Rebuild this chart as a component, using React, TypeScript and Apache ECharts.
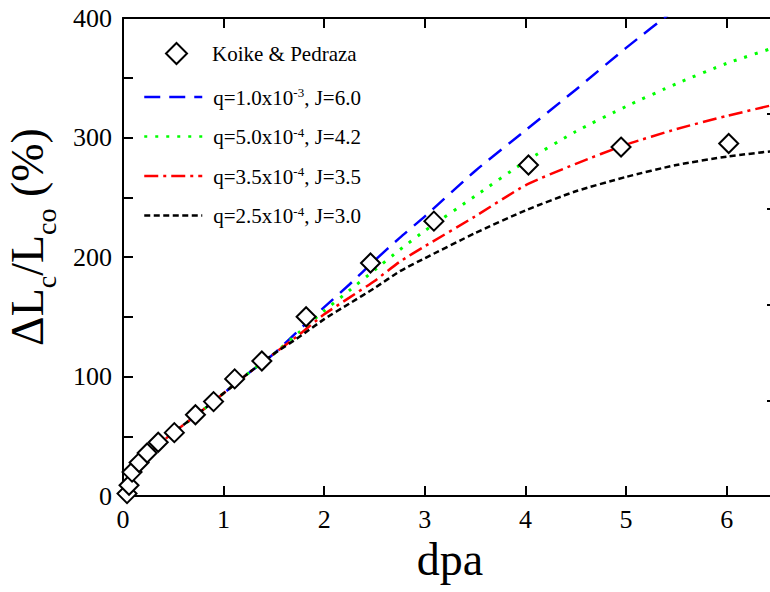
import React, { useEffect, useRef } from "react";
import * as echarts from "echarts";

// Experimental data (Koike & Pedraza)
const expDpa = [0.04, 0.06, 0.09, 0.16, 0.24, 0.35, 0.51, 0.72, 0.9, 1.11, 1.38, 1.82, 2.46, 3.09, 4.03, 4.95, 6.02];
const expDL = [2, 9, 20, 28, 36, 45, 53, 68, 79, 98, 113, 150, 195, 230, 277, 292, 295];

// Model curves
const modelDpa = [0, 0.05, 0.1, 0.2, 0.35, 0.5, 0.75, 1.0, 1.25, 1.5, 1.75, 2.0, 2.25, 2.5, 2.75, 3.0, 3.5, 4.0, 4.5, 5.0, 5.5, 6.0, 6.5];
const blueModel = [0, 9, 18, 31, 43, 53, 69, 86, 103, 119, 139, 158, 177, 197, 216, 234, 272, 306, 340, 375, 408, 440, 470];
const greenModel = [0, 9, 18, 31, 43, 53, 69, 86, 103, 119, 137, 155, 172, 189, 206, 222, 251, 280, 305, 326, 345, 362, 376];
const redModel = [0, 9, 18, 31, 43, 53, 69, 86, 103, 119, 135, 152, 166, 180, 196, 209, 234, 260, 278, 294, 307, 318, 328];
const blackModel = [0, 9, 18, 31, 43, 53, 69, 86, 103, 119, 133, 148, 161, 174, 188, 199, 220, 239, 255, 267, 277, 284, 289];

const expName = "Koike & Pedraza";
const modelNames = [
  "q=1.0x10^-3, J=6.0",
  "q=5.0x10^-4, J=4.2",
  "q=3.5x10^-4, J=3.5",
  "q=2.5x10^-4, J=3.0",
];

const pair = (xs: number[], ys: number[]) => xs.map((x, i) => [x, ys[i]]);

export default function App() {
  const ref = useRef<HTMLDivElement>(null);
  useEffect(() => {
    const chart = echarts.init(ref.current!, null, { renderer: "svg" });
    const font = "Liberation Serif";
    const legendFmt = (name: string) =>
      name
        .split(/(\^-\d)/)
        .filter((s) => s.length > 0)
        .map((s) => (s.startsWith("^") ? `{sup|${s.slice(1)}}` : `{t|${s}}`))
        .join("");
    const legendText = {
      fontFamily: font,
      fontSize: 21,
      color: "#000",
      rich: {
        t: { fontFamily: font, fontSize: 21, lineHeight: 22, verticalAlign: "bottom", color: "#000" },
        sup: { fontFamily: font, fontSize: 13, lineHeight: 13, verticalAlign: "top", color: "#000" },
      },
    };
    const lineSeries = (name: string, ys: number[], color: string, dash: number[], width: number) => ({
      name,
      type: "line",
      data: pair(modelDpa, ys),
      smooth: 0.2,
      symbol: "none",
      showSymbol: false,
      clip: true,
      z: 2,
      lineStyle: { color, width, type: dash },
      itemStyle: { color },
    });
    chart.setOption({
      animation: false,
      backgroundColor: "#fff",
      textStyle: { fontFamily: font },
      grid: { left: 123, top: 18, right: 13, bottom: 96, containLabel: false, outerBoundsMode: "none" },
      legend: [
        {
          data: [{ name: expName, icon: "diamond" }],
          orient: "vertical",
          left: 165,
          top: 42,
          padding: 0,
          itemWidth: 21,
          itemHeight: 21,
          selectedMode: false,
          textStyle: { fontFamily: font, fontSize: 21, color: "#000", padding: [0, 0, 0, 20] },
        },
        {
          data: modelNames,
          orient: "vertical",
          left: 143,
          top: 86,
          padding: 0,
          itemWidth: 58,
          itemHeight: 21,
          itemGap: 17.5,
          selectedMode: false,
          formatter: legendFmt,
          itemStyle: { opacity: 0 },
          lineStyle: { width: 2.5 },
          textStyle: { ...legendText, padding: [0, 0, 0, 6] },
        },
      ],
      xAxis: [
        {
          type: "value",
          position: "bottom",
          min: 0,
          max: 6.5,
          interval: 1,
          name: "dpa",
          nameLocation: "middle",
          nameGap: 40,
          nameTextStyle: { fontFamily: font, fontSize: 46, color: "#000" },
          axisLine: { show: true, onZero: false, lineStyle: { color: "#000", width: 2 } },
          axisTick: { show: true, inside: true, length: 10, lineStyle: { color: "#000", width: 2 } },
          axisLabel: { showMaxLabel: false, fontFamily: font, fontSize: 26, color: "#000", margin: 10 },
          splitLine: { show: false },
        },
        {
          type: "value",
          position: "top",
          min: 0,
          max: 6.5,
          interval: 1,
          axisLine: { show: true, onZero: false, lineStyle: { color: "#000", width: 2 } },
          axisTick: { show: true, inside: true, length: 10, lineStyle: { color: "#000", width: 2 } },
          axisLabel: { show: false },
          splitLine: { show: false },
        },
      ],
      yAxis: [
        {
          type: "value",
          position: "left",
          min: 0,
          max: 400,
          interval: 100,
          name: "{m|ΔL}{s|c}{m|/L}{s|co}{m| (%)}",
          nameLocation: "middle",
          nameGap: 63,
          nameTextStyle: {
            fontFamily: font,
            fontSize: 46,
            color: "#000",
            padding: [0, 0, 0, 40],
            rich: {
              m: { fontFamily: font, fontSize: 46, lineHeight: 56, verticalAlign: "top", color: "#000" },
              s: { fontFamily: font, fontSize: 28, lineHeight: 20, verticalAlign: "bottom", color: "#000" },
            },
          },
          axisLine: { show: true, onZero: false, lineStyle: { color: "#000", width: 2 } },
          axisTick: { show: true, inside: true, length: 10, lineStyle: { color: "#000", width: 2 } },
          minorTick: { show: true, splitNumber: 2, length: 10, lineStyle: { color: "#000", width: 2 } },
          axisLabel: { fontFamily: font, fontSize: 26, color: "#000", margin: 11 },
          splitLine: { show: false },
          minorSplitLine: { show: false },
        },
        {
          type: "value",
          position: "right",
          min: 0,
          max: 400,
          interval: 80,
          axisLine: { show: true, onZero: false, lineStyle: { color: "#000", width: 2 } },
          axisTick: { show: true, inside: true, length: 10, lineStyle: { color: "#000", width: 2 } },
          axisLabel: { show: false },
          splitLine: { show: false },
        },
      ],
      series: [
        lineSeries(modelNames[0], blueModel, "#0000ff", [16, 9], 2.5),
        lineSeries(modelNames[1], greenModel, "#00ff00", [3, 8], 3),
        lineSeries(modelNames[2], redModel, "#ff0000", [14, 5, 3, 5], 2.5),
        lineSeries(modelNames[3], blackModel, "#000000", [6, 3.5], 2.5),
        {
          name: expName,
          type: "scatter",
          data: pair(expDpa, expDL),
          symbol: "diamond",
          symbolSize: 19,
          z: 5,
          itemStyle: { color: "#fff", borderColor: "#000", borderWidth: 2, opacity: 1 },
        },
      ],
    });
    return () => chart.dispose();
  }, []);
  return (
    <div style={{ position: "absolute", left: 0, top: 0, width: 770, height: 592, overflow: "hidden", background: "#fff" }}>
      <div ref={ref} style={{ width: 790, height: 592 }} />
    </div>
  );
}
